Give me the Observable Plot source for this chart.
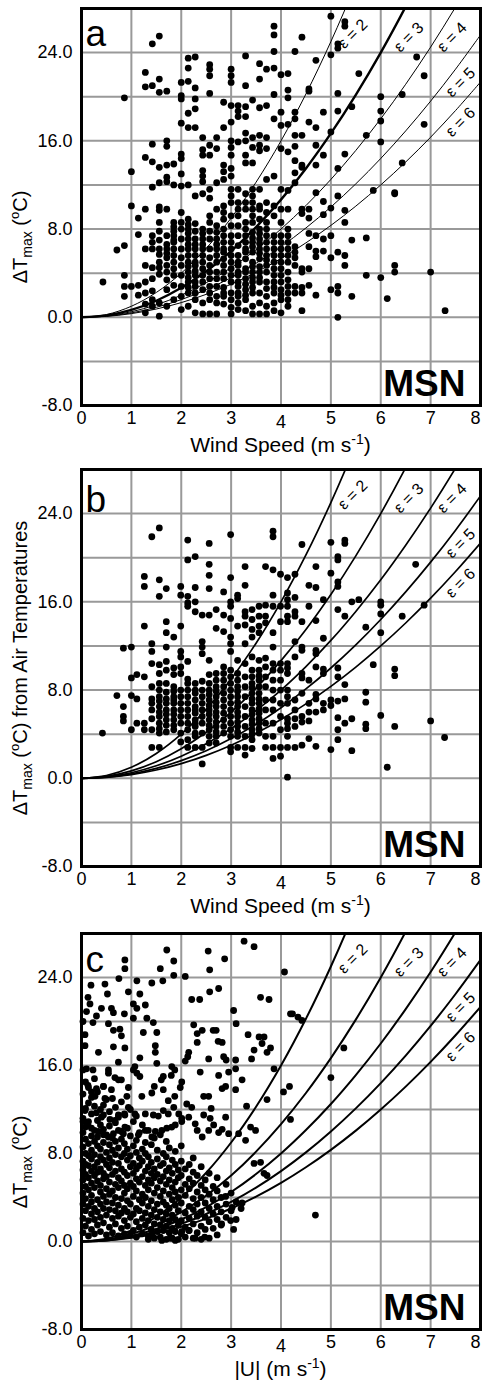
<!DOCTYPE html>
<html><head><meta charset="utf-8">
<script src="https://cdn.jsdelivr.net/npm/d3@7"></script>
<script src="https://cdn.jsdelivr.net/npm/@observablehq/plot@0.6"></script>
<style>
body{margin:0;background:#fff;}
#chart svg{display:block;}
</style></head><body><div id="chart"></div>
<script>
// ---------- axes / ticks ----------
const xTicks = [0,1,2,3,4,5,6,7,8];
const yTicks = [-8,0,8,16,24];
const yGrid = [-8,-4,0,4,8,12,16,20,24,28];

// ---------- theoretical curves ----------
const epsilons = [2,3,4,5,6];
const curveU = [0,0.5,1,1.5,2,2.5,3,3.5,4,4.5,5,5.5,6,6.5,7,7.5,8];
const eps2T = [0,0.25,1,2.25,4,6.25,9,12.25,16,20.25,25,30.25,36];
const eps3T = [0,0.17,0.67,1.5,2.67,4.17,6,8.17,10.67,13.5,16.67,20.17,24,28.17,32.67];
const eps4T = [0,0.13,0.5,1.13,2,3.13,4.5,6.13,8,10.13,12.5,15.13,18,21.13,24.5,28.13,32];
const eps5T = [0,0.1,0.4,0.9,1.6,2.5,3.6,4.9,6.4,8.1,10,12.1,14.4,16.9,19.6,22.5,25.6];
const eps6T = [0,0.08,0.33,0.75,1.33,2.08,3,4.08,5.33,6.75,8.33,10.08,12,14.08,16.33,18.75,21.33];
const curveT = [eps2T, eps3T, eps4T, eps5T, eps6T];
const labelU = [5.44, 6.56, 7.43, 7.6, 7.6];
const labelT = [25.7, 25.4, 25.4, 21.3, 17.7];

// ---------- panel a: columns [wind speed, ΔTmax ...] ----------
const aCols = [
[0.43,3.2],[0.71,6.1],
[0.86,19.9,6.5,3.8,2.8,1.9],
[1.0,13.2,10.1,2.8],
[1.14,9.0,7.5,2.9,2.0],
[1.28,22.2,20.9,14.5,9.8,6.2,4.7,3.2,2.2,1.2,0.4],
[1.42,24.8,21.0,15.7,14.1,11.8,7.4,6.8,6.2,4.5,3.5,2.4,1.6,1.0],
[1.56,25.5,21.6,20.4,13.6,12.2,10.0,9.7,8.6,7.8,7.0,6.2,5.7,5.0,4.5,3.9,1.3,0.1],
[1.71,20.5,16.0,15.5,13.8,12.7,12.3,9.8,7.4,6.6,6.2,5.8,5.4,4.7,4.1,3.4,2.5,1.0],
[1.85,13.9,12.0,8.6,8.2,7.8,7.4,7.0,6.8,6.2,5.6,5.0,4.4,3.8,2.9,1.6],
[2.0,21.3,20.1,19.8,17.6,14.8,14.4,13.0,11.9,9.5,8.6,8.0,7.1,6.2,5.4,4.7,3.8,2.8,1.9,0.7],
[2.14,23.5,22.6,21.4,18.5,17.2,12.0,8.9,8.4,8.0,7.6,7.1,6.6,6.2,5.6,5.0,4.6,4.1,3.6,3.2,2.7,2.2,1.0],
[2.28,23.6,20.8,19.8,18.9,17.2,11.0,8.5,7.8,7.1,6.6,6.2,5.6,5.0,4.7,4.2,3.8,3.2,2.8,2.2,1.6,0.4],
[2.43,16.3,15.2,14.7,13.3,12.8,12.3,11.2,8.0,7.6,7.1,6.6,6.2,5.6,5.0,4.4,3.8,3.2,2.5,1.3,0.3],
[2.57,22.9,22.5,21.9,20.3,15.6,14.7,11.6,10.8,9.2,8.6,7.8,7.1,6.2,5.4,4.7,4.1,3.5,2.8,2.2,1.6,0.3],
[2.71,16.3,15.3,12.2,9.8,8.3,7.7,7.1,6.6,6.2,5.6,5.0,4.1,3.5,2.8,1.9,1.3,0.3],
[2.85,19.5,17.2,13.8,13.2,12.5,10.1,9.5,8.9,8.0,7.4,6.8,6.2,5.9,5.3,4.7,4.1,3.5,2.7,2.2,1.9,1.2],
[3.0,22.5,21.9,21.3,19.2,17.7,16.0,15.4,14.7,13.5,12.8,11.6,11.0,10.4,9.2,8.3,7.4,6.8,6.2,5.6,5.0,4.4,3.8,3.2,2.2,1.6,0.9,0.3],
[3.14,19.2,18.7,18.2,15.9,11.6,10.4,9.8,9.2,8.3,7.4,6.5,5.6,5.0,4.7,4.1,3.8,3.2,2.8,2.2,1.9,1.3,0.7],
[3.29,23.7,21.0,19.1,18.2,16.7,16.0,14.7,14.0,11.2,10.4,9.8,8.6,8.0,7.4,6.8,6.2,5.9,5.3,4.4,4.1,3.5,3.0,2.5,2.0,1.6,0.6],
[3.43,19.7,16.3,15.4,14.0,11.6,11.0,10.4,9.8,9.2,8.6,7.7,7.2,6.8,6.4,5.9,5.0,4.6,4.1,3.6,3.2,2.7,2.2,1.0,0.3],
[3.57,23.0,21.6,19.0,16.5,15.6,15.1,11.6,10.1,9.8,8.9,8.0,7.6,7.1,6.7,6.2,5.8,5.3,4.6,4.1,3.6,3.2,2.2,1.3,0.3],
[3.71,22.5,19.2,16.3,15.3,12.5,10.4,9.5,8.6,8.0,7.4,6.8,6.2,5.6,5.2,4.7,4.1,3.2,2.6,1.9,1.0,0.3],
[3.86,26.4,25.6,24.1,22.6,20.2,18.0,12.8,10.1,9.2,7.4,6.8,6.2,5.6,5.0,4.4,3.8,3.2,2.7,2.2,1.3,0.6],
[4.0,22.0,18.6,17.4,15.3,11.6,9.8,8.6,7.4,6.8,6.2,5.6,5.0,4.4,3.8,3.2,2.5,2.0,1.6,0.4],
[4.14,22.1,20.6,19.9,17.5,15.0,11.5,9.8,8.0,7.4,6.8,6.2,5.6,5.0,4.1,3.4,2.8,2.2,1.6,1.0],
[4.28,24.1,18.6,18.0,16.5,15.5,14.2,13.1,12.2,6.4,5.9,5.4,4.7,2.8,2.2],
[4.42,25.4,16.5,13.8,13.6,9.8,9.4,4.4,4.1,2.7,2.2,0.6],
[4.56,20.7,20.5,17.7,9.8,9.0,7.6,6.4,4.4,2.9],
[4.7,23.3,17.2,15.6,13.8,11.3,7.4,6.0,5.5,2.0],
[4.85,18.6,14.7,10.5,9.3,7.1,6.0],
[5.0,27.3,23.8,16.8,9.9,7.4,5.4,2.5],
[5.14,24.8,24.4,20.3,18.7,13.5,11.0,5.9,2.8,2.2,0.0],
[5.28,26.8,26.4,14.8,9.7,8.6,5.6,4.7],
[5.42,19.1,7.0,1.9],[5.56,22.1],[5.71,16.5,7.2,3.8],[5.85,11.5],
[6.0,20.0,18.7,17.8,15.9,3.6],[6.13,1.7],[6.28,11.3,11.2,4.7,4.1],
[6.43,20.2,14.0],[6.72,23.6],[6.87,21.9,17.5],[7.0,4.1],[7.29,0.6]
];

// ---------- panel b ----------
const bCols = [
[0.42,4.1],[0.71,7.5],
[0.84,11.8,6.5,5.6,5.2],
[1.0,11.9,9.1,7.5,4.4],
[1.11,9.4,7.2,5.0],
[1.26,18.3,17.4,13.8,9.2,5.0,4.4],
[1.41,21.9,12.2,11.5,10.4,8.3,7.2,6.8,6.2,5.4,4.4,2.8],
[1.56,22.7,18.0,16.5,10.3,9.5,8.6,8.0,7.4,7.0,6.5,6.0,5.6,5.0,4.5,4.1,2.8],
[1.7,17.2,14.2,13.2,11.9,10.6,9.8,8.6,7.8,7.2,6.8,6.2,5.8,5.3,4.8,4.2],
[1.85,12.8,10.0,9.4,8.3,7.9,7.4,7.1,6.8,6.2,5.8,5.3,4.8,4.4],
[1.99,17.4,16.6,13.8,11.5,11.0,10.1,9.5,8.0,7.4,6.8,6.2,5.6,5.0,4.1,3.3],
[2.13,21.6,19.8,16.5,15.9,15.6,10.6,9.0,8.6,8.0,7.4,6.8,6.2,5.6,5.0,4.4,3.5,2.8],
[2.28,20.1,17.3,16.0,15.1,8.6,8.0,7.7,7.1,6.5,6.2,5.9,5.3,5.0,4.7,4.1,3.8,2.8],
[2.42,14.8,12.4,11.9,11.3,8.8,8.0,7.4,6.8,6.2,5.6,5.0,4.1,2.8,1.3],
[2.56,21.3,19.4,18.4,17.2,14.8,10.7,9.4,8.6,8.0,7.6,7.1,6.6,6.2,5.8,5.3,4.8,4.4,3.8,3.2],
[2.7,15.3,13.6,9.5,8.9,8.3,7.9,7.4,6.9,6.5,6.0,5.6,5.1,4.7,4.2,3.8,3.2],
[2.85,16.9,14.8,13.3,10.1,9.5,8.9,8.3,7.7,7.1,6.5,5.9,5.3,4.7,4.1],
[2.99,22.1,18.2,16.0,15.6,14.5,12.8,12.2,11.5,9.8,9.2,8.6,8.0,7.4,6.8,6.2,5.6,5.0,4.4,3.8,2.8,2.4],
[3.13,16.6,16.3,13.8,10.7,9.5,8.9,8.3,7.9,7.4,6.9,6.5,6.0,5.6,5.1,4.7,4.2,3.8,2.8],
[3.28,19.2,17.5,15.1,14.7,13.9,12.2,10.4,9.2,8.3,7.4,6.5,5.6,4.7,3.8,2.8,2.1],
[3.42,15.3,14.4,13.5,12.8,11.0,9.8,9.2,8.6,8.2,7.7,7.2,6.8,6.2,5.8,5.3,4.9,4.4,4.0,3.5,2.7],
[3.56,15.6,14.7,13.8,13.2,10.7,9.8,9.3,8.9,8.3,7.7,7.2,6.8,6.3,5.9,5.4,5.0,4.5,4.1],
[3.69,19.2,15.7,14.7,14.1,10.9,10.1,9.2,8.3,7.1,6.2,5.0,3.8,2.8],
[3.84,22.4,21.9,18.9,16.6,15.6,13.2,11.9,10.4,9.8,8.9,8.0,7.1,6.2,5.0,3.8,2.8,1.8],
[3.99,18.5,15.6,14.2,10.4,9.8,8.9,8.0,6.8,5.6,4.4,2.8,2.0],
[4.13,18.2,16.8,16.2,15.6,14.7,14.2,10.4,10.0,9.5,8.0,7.4,6.8,5.4,5.0,4.5,3.8,2.8,0.1],
[4.28,18.5,16.4,15.1,14.7,12.4,11.0,7.1,6.2,5.4,4.7,2.8],
[4.42,21.2,14.2,11.9,11.6,9.5,9.1,7.7,5.6,5.1,3.0],
[4.56,17.5,15.6,8.9,6.8,6.0,5.2,3.6],
[4.7,19.2,17.3,14.3,11.6,11.3,10.1,7.6,7.2,6.0,2.9],
[4.85,16.2,12.7,9.9,9.5,6.8,6.2],
[5.0,21.4,18.6,7.1,6.6,2.6],
[5.14,20.1,19.8,17.8,17.4,15.3,10.0,9.2,7.0,5.5,4.4,3.5],
[5.28,21.6,21.3,14.7,8.5,7.2,5.0],
[5.42,16.0,5.4,2.5],[5.56,16.2],[5.7,13.7,7.8,6.9,4.9,4.5],[5.85,10.3],
[6.0,16.0,15.7,14.9,13.2,5.7],[6.13,1.0],[6.28,9.9,9.3,4.7],
[6.43,14.7],[6.7,19.4],[6.87,15.7],[7.0,5.2],[7.28,3.7]
];

// ---------- panel c: scattered points [|U|, ΔTmax] ----------
const cPairs = [
[3.26,27.3],[3.46,26.8],[1.71,26.5],[2.54,26.4],[0.87,25.6],[0.87,24.8],[1.85,25.5],[2.87,25.7],[1.58,24.8],[2.57,24.7],[4.07,24.5],
[0.75,23.9],[1.11,23.7],[1.41,23.5],[1.63,23.7],[1.85,24.2],[2.08,24.1],[0.19,23.3],[0.47,23.4],[0.52,22.5],[0.94,22.7],[1.17,22.5],
[2.21,22.0],[2.37,22.0],[2.57,22.7],[2.75,23.0],[3.59,22.2],[3.76,22.0],[0.13,22.2],[0.17,21.6],[0.4,21.2],[0.6,21.2],[0.64,20.8],
[0.1,20.9],[0.3,20.5],[0.86,20.7],[1.04,21.6],[1.11,21.2],[1.28,21.5],[1.04,20.3],[1.31,20.3],[1.44,19.9],[0.54,19.8],[0.23,19.9],
[0.03,20.0],[3.05,21.0],[4.19,20.7],[3.1,19.8],[2.25,19.7],[2.32,18.9],[2.42,19.2],[2.64,19.2],[2.7,19.2],[3.34,18.8],[3.56,18.6],
[3.66,18.6],[0.64,19.2],[0.77,19.3],[1.24,19.0],[1.51,19.0],[0.07,18.8],[0.07,17.8],[0.8,18.7],[1.48,17.8],[0.87,17.6],[2.32,18.1],
[2.74,18.2],[2.82,18.1],[3.62,18.0],[3.46,17.4],[3.79,17.6],[3.72,17.2],[0.34,17.2],[0.64,17.7],[1.48,17.2],[2.15,17.2],[1.17,16.7],
[2.08,16.4],[2.13,16.8],[2.55,16.6],[2.85,16.8],[2.9,16.5],[3.09,16.5],[3.41,16.6],[3.86,15.7],[0.74,16.3],[1.51,16.2],[1.81,15.9],
[1.87,15.6],[3.09,15.7],
[4.23,20.7],[4.34,20.4],[4.42,20.1],[5.26,17.6],[5.0,14.9],[4.05,13.6],[4.17,14.1],[4.19,11.1],[4.69,2.4],
[0.1,15.7],[0.23,15.6],[0.54,15.6],[0.54,15.3],[0.67,14.9],[0.74,14.7],[0.13,14.2],[0.2,13.6],[0.27,13.2],[0.3,13.9],[0.44,14.1],
[0.47,13.0],[0.44,12.4],[0.6,13.8],[0.8,14.7],[0.94,14.0],[1.07,15.9],[1.11,15.3],[1.17,15.0],[1.04,15.6],[0.91,13.2],[1.21,13.2],
[1.41,13.5],[1.46,14.1],[1.6,14.7],[1.64,15.0],[1.8,15.1],[1.64,13.8],[2.01,14.5],[1.98,14.0],[1.87,13.2],[1.74,12.8],[1.85,12.2],
[2.11,12.5],[2.21,12.2],[2.38,15.4],[2.75,15.1],[2.95,15.4],[2.82,13.9],[2.89,14.1],[3.09,13.8],[3.22,14.7],[2.45,13.2],[2.55,13.2],
[2.6,12.1],[2.58,11.2],[2.45,11.5],[2.89,11.3],[3.15,9.8],[3.31,12.3],[3.39,10.4],[3.72,12.9],
[0.07,11.9],[0.3,11.7],[0.4,11.3],[0.57,11.1],[0.67,11.0],[0.74,11.5],[0.87,11.5],[0.94,12.2],[1.07,11.6],[1.28,11.6],[1.44,11.5],
[1.54,11.4],[1.64,11.9],[1.74,11.6],[1.95,11.6],[2.01,11.2],[2.15,11.3],[2.28,10.7],[2.32,10.1],[2.42,9.5],[2.55,10.1],[2.65,10.6],
[2.75,9.9],[2.82,10.2],[2.95,9.8],[3.29,9.2],[3.49,10.1],
[0.03,10.9],[0.13,10.6],[0.2,10.3],[0.34,10.0],[0.44,9.7],[0.54,9.5],[0.64,9.8],[0.74,10.1],[0.84,9.8],[0.87,10.4],[1.14,9.7],
[1.28,10.1],[1.41,9.5],[1.48,10.0],[1.61,10.1],[1.71,10.3],[1.81,10.4],[1.88,10.6],[2.01,10.9],
[3.46,7.1],[3.59,7.2],[3.66,6.2],[3.72,6.0],[3.22,3.5],[3.02,3.1],[2.89,4.1],[2.81,1.6],[2.99,1.9],[3.05,1.1],[2.47,0.4],[2.28,0.3],
[2.15,1.0],[2.01,0.9],[1.88,0.1],[1.78,0.3],[1.61,0.1],[1.34,0.2],[1.41,0.6]
];
// panel c dense part, columns [|U|, ΔTmax ...]
const cCols = [
[0.03,0.8,2.1,3.4,4.4,5.6,6.5,7.3,8.6,9.9,11.2,13.4,15.6],
[0.08,1.4,2.8,3.9,5.0,6.1,7.0,8.0,9.3,10.4,12.1,14.5],
[0.14,0.5,1.9,3.2,4.7,5.8,6.9,7.8,8.9,10.9,12.6,14.0],
[0.2,1.1,2.5,3.6,4.2,5.3,6.4,7.5,8.3,9.6,11.6,13.1],
[0.26,0.7,2.0,3.0,4.9,6.0,6.8,7.9,9.1,10.1,12.3,14.8],
[0.32,1.5,2.7,3.8,5.5,6.3,7.2,8.7,9.5,11.0,13.6],
[0.38,0.9,2.2,3.4,4.5,5.1,6.6,7.7,8.4,10.6,12.0],
[0.44,1.7,3.0,4.1,5.7,6.2,7.4,9.0,10.2,11.5,14.1],
[0.5,0.6,2.4,3.6,4.8,5.9,7.0,8.1,9.7,12.9],
[0.56,1.3,2.9,4.3,5.4,6.7,7.6,8.8,10.5,11.8],
[0.62,0.8,2.1,3.5,4.6,6.1,7.2,8.3,9.4,13.0],
[0.68,1.6,2.8,4.0,5.2,6.4,7.9,9.1,10.8,12.2],
[0.74,0.5,2.3,3.3,4.9,5.8,7.1,8.5,11.3],
[0.8,1.2,2.6,3.9,5.5,6.6,7.7,9.3,10.0,12.7],
[0.86,0.7,1.9,3.0,4.4,5.1,6.3,8.0,8.9,11.6],
[0.92,1.4,2.7,3.7,4.8,6.0,7.4,8.4,10.3],
[0.98,0.6,2.2,3.4,5.3,6.8,7.8,9.6,12.0],
[1.04,1.0,2.5,4.1,5.0,6.2,7.1,8.7,10.9],
[1.1,0.4,1.8,3.0,4.6,5.7,6.6,8.1,9.2,11.4],
[1.16,1.3,2.8,3.8,5.4,6.9,7.6,9.9],
[1.22,0.7,2.1,3.5,4.3,5.9,7.3,8.4,10.6],
[1.28,1.5,2.6,4.0,5.1,6.4,8.0,9.0],
[1.34,0.5,1.9,3.2,4.7,5.6,6.8,7.7,10.1],
[1.4,1.1,2.4,3.7,5.3,6.2,7.2,8.8],
[1.46,0.3,1.6,2.9,4.4,5.8,6.6,9.4],
[1.52,0.9,2.2,3.4,4.9,6.1,7.5,8.3],
[1.58,0.4,1.5,2.7,4.1,5.5,6.9,9.7],
[1.64,1.0,2.0,3.6,4.6,5.9,7.1,8.0],
[1.7,0.2,1.4,2.5,3.3,5.2,6.4,7.7,9.1],
[1.76,0.8,1.9,3.0,4.3,5.6,6.7,8.5],
[1.82,0.3,1.2,2.4,3.8,4.9,6.2,7.4],
[1.88,0.9,2.0,3.3,4.5,5.4,7.0,8.2],
[1.94,0.2,1.5,2.8,4.0,5.8,6.5],
[2.0,0.7,1.9,3.5,4.7,6.0,7.3,8.7],
[2.08,0.4,1.3,2.6,4.2,5.2,6.6],
[2.16,1.0,2.1,3.2,4.8,5.7,7.0],
[2.24,0.3,1.6,2.9,3.9,5.3,6.3,7.6],
[2.32,0.8,2.3,3.4,4.5,6.0],
[2.4,0.2,1.4,2.7,4.0,5.1,6.8],
[2.48,1.1,2.2,3.5,4.7,5.6],
[2.56,0.3,1.8,3.0,4.3,6.2],
[2.64,1.2,2.5,3.8,5.0],
[2.72,0.6,2.0,3.2,4.6,5.8],
[2.8,1.5,2.7,4.0],
[2.9,2.2,3.4,5.2],
[3.0,2.8,4.4],
[3.1,2.0,3.6],
[3.2,3.0]
];

const FONT = "'Liberation Sans', Arial, Helvetica, sans-serif";
const colsToPoints = cols => cols.flatMap(c => c.slice(1).map(t => ({u: c[0], t})));
const pairsToPoints = ps => ps.map(([u, t]) => ({u, t}));

function makePanel({points, letter, letterBase, xTitle, yExtra, height, marginTop, marginBottom, widths, yTitleY}) {
  const curveMarks = curveT.map((arr, i) => Plot.line(
    arr.map((t, j) => ({u: curveU[j], t})),
    {x: "u", y: "t", stroke: "black", strokeWidth: widths[i], curve: "catmull-rom", clip: true}
  ));
  const labels = epsilons.map((e, i) => ({u: labelU[i], t: labelT[i], s: `ε = ${e}`}));
  const chart = Plot.plot({
    width: 482, height, marginLeft: 81, marginRight: 2, marginTop, marginBottom,
    style: {fontFamily: FONT, fontSize: "18px", background: "white", color: "black"},
    x: {domain: [0, 8]},
    y: {domain: [-8, 28]},
    marks: [
      Plot.ruleX(xTicks, {stroke: "#999", strokeWidth: 2}),
      Plot.ruleY(yGrid, {stroke: "#999", strokeWidth: 2}),
      ...curveMarks,
      Plot.dot(points, {x: "u", y: "t", r: 3.4, fill: "black", stroke: "none"}),
      Plot.text(labels, {x: "u", y: "t", text: "s", rotate: -45, fontSize: 16, fill: "black"}),
      Plot.text([letter], {frameAnchor: "top-left", lineAnchor: "bottom", textAnchor: "start", dx: 4, dy: letterBase, fontSize: 37, fill: "black"}),
      Plot.text(["MSN"], {frameAnchor: "bottom-right", lineAnchor: "bottom", textAnchor: "end", dx: -15, dy: -10, fontSize: 37, fontWeight: "bold", fill: "black"}),
      Plot.axisX(xTicks.filter(d => d !== 4 && d !== 8), {tickSize: 0, tickPadding: 6, fontSize: 18, label: null}),
      Plot.axisX([4], {tickSize: 0, tickPadding: 10, fontSize: 18, label: null}),
      Plot.axisX([8], {tickSize: 0, tickPadding: 6, fontSize: 18, label: null, dx: -5}),
      Plot.axisY(yTicks, {tickSize: 0, tickPadding: 9, fontSize: 18, tickFormat: d => d.toFixed(1), label: null}),
      Plot.frame({stroke: "black", strokeWidth: 3})
    ]
  });
  const svg = d3.select(chart);
  const fb = height - marginBottom;
  // x title
  const xt = svg.append("text").attr("x", (81 + 480) / 2).attr("y", fb + 47)
    .attr("text-anchor", "middle").attr("font-size", 21).attr("font-family", FONT).attr("fill", "black");
  xt.append("tspan").text(xTitle);
  xt.append("tspan").attr("dy", -8).attr("font-size", 14).text("-1");
  xt.append("tspan").attr("dy", 8).text(")");
  // y title
  const yt = svg.append("text").attr("transform", `translate(27,${yTitleY}) rotate(-90)`)
    .attr("text-anchor", "middle").attr("font-size", 20).attr("font-family", FONT).attr("fill", "black");
  yt.append("tspan").text("ΔT");
  yt.append("tspan").attr("dy", 5).attr("font-size", 14).text("max");
  yt.append("tspan").attr("dy", -5).text(" (");
  yt.append("tspan").attr("dy", -8).attr("font-size", 13).text("o");
  yt.append("tspan").attr("dy", 8).text("C)" + yExtra);
  return chart;
}

const root = document.getElementById("chart");
root.append(makePanel({points: colsToPoints(aCols), letter: "a", letterBase: 37, xTitle: "Wind Speed (m s", yExtra: "",
  height: 462, marginTop: 8, marginBottom: 57, widths: [1, 2.4, 1, 1, 1], yTitleY: 237}));
root.append(makePanel({points: colsToPoints(bCols), letter: "b", letterBase: 42, xTitle: "Wind Speed (m s", yExtra: " from Air Temperatures",
  height: 463, marginTop: 7, marginBottom: 59, widths: [1.7, 1.7, 1.7, 1.7, 1.7], yTitleY: 206}));
root.append(makePanel({points: colsToPoints(cCols).concat(pairsToPoints(cPairs)), letter: "c", letterBase: 38, xTitle: "|U| (m s", yExtra: "",
  height: 459, marginTop: 8, marginBottom: 55, widths: [2, 2, 2, 2, 2], yTitleY: 237}));
</script></body></html>
